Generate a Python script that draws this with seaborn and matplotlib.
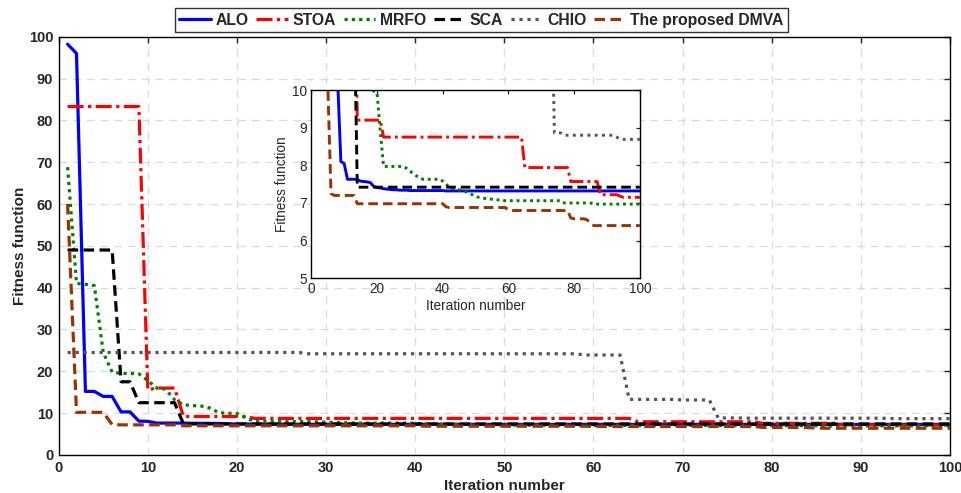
import matplotlib
matplotlib.use("Agg")
import matplotlib.pyplot as plt
import numpy as np
import pandas as pd
import seaborn as sns

iterations = list(range(1, 101))

alo = [
    98.2, 96.0, 15.2, 15.2, 14.0, 14.0, 10.3, 10.3, 8.10, 8.05,
    7.63, 7.63, 7.63, 7.62, 7.58, 7.57, 7.56, 7.54, 7.44, 7.41,
    7.40, 7.38, 7.37, 7.36, 7.35, 7.35, 7.34, 7.34, 7.34, 7.33,
    7.33, 7.33, 7.33, 7.33, 7.33, 7.33, 7.33, 7.33, 7.33, 7.33,
    7.32, 7.32, 7.32, 7.32, 7.32, 7.32, 7.32, 7.32, 7.32, 7.32,
    7.32, 7.32, 7.32, 7.32, 7.32, 7.32, 7.32, 7.32, 7.32, 7.32,
    7.32, 7.32, 7.32, 7.32, 7.32, 7.32, 7.32, 7.32, 7.32, 7.32,
    7.32, 7.32, 7.32, 7.32, 7.32, 7.32, 7.32, 7.32, 7.32, 7.32,
    7.32, 7.32, 7.32, 7.32, 7.32, 7.32, 7.32, 7.32, 7.32, 7.32,
    7.32, 7.32, 7.32, 7.32, 7.32, 7.32, 7.32, 7.32, 7.32, 7.32,
]

stoa = [
    83.3, 83.3, 83.3, 83.3, 83.3, 83.3, 83.3, 83.3, 83.3, 15.6,
    16.0, 16.0, 16.0, 9.20, 9.20, 9.20, 9.20, 9.20, 9.20, 9.20,
    9.20, 8.75, 8.75, 8.75, 8.75, 8.75, 8.75, 8.75, 8.75, 8.75,
    8.75, 8.75, 8.75, 8.75, 8.75, 8.75, 8.75, 8.75, 8.75, 8.75,
    8.75, 8.75, 8.75, 8.75, 8.75, 8.75, 8.75, 8.75, 8.75, 8.75,
    8.75, 8.75, 8.75, 8.75, 8.75, 8.75, 8.75, 8.75, 8.75, 8.75,
    8.75, 8.75, 8.75, 8.75, 7.94, 7.94, 7.94, 7.94, 7.94, 7.94,
    7.94, 7.94, 7.94, 7.94, 7.94, 7.94, 7.94, 7.94, 7.57, 7.57,
    7.57, 7.57, 7.57, 7.57, 7.57, 7.57, 7.57, 7.22, 7.22, 7.22,
    7.22, 7.22, 7.22, 7.18, 7.15, 7.15, 7.15, 7.15, 7.15, 7.15,
]

mrfo = [
    68.8, 41.0, 40.8, 40.5, 24.5, 19.8, 19.5, 19.5, 19.4, 17.8,
    16.0, 15.7, 13.2, 12.0, 11.8, 11.7, 11.2, 10.1, 9.97, 9.93,
    8.90, 7.97, 7.97, 7.97, 7.97, 7.97, 7.97, 7.97, 7.92, 7.85,
    7.78, 7.72, 7.66, 7.63, 7.63, 7.63, 7.63, 7.63, 7.63, 7.58,
    7.50, 7.42, 7.38, 7.36, 7.35, 7.33, 7.30, 7.25, 7.22, 7.17,
    7.15, 7.13, 7.12, 7.11, 7.10, 7.09, 7.08, 7.08, 7.06, 7.06,
    7.06, 7.06, 7.06, 7.06, 7.06, 7.06, 7.06, 7.06, 7.06, 7.06,
    7.06, 7.06, 7.06, 7.06, 7.06, 7.06, 7.00, 7.00, 7.00, 7.00,
    7.00, 7.00, 7.00, 7.00, 7.00, 6.97, 6.97, 6.97, 6.97, 6.97,
    6.97, 6.97, 6.97, 6.97, 6.97, 6.97, 6.97, 6.97, 6.97, 6.97,
]

sca = [
    49.0, 49.0, 49.0, 49.0, 49.0, 49.0, 17.5, 17.5, 12.5, 12.5,
    12.5, 12.5, 12.5, 7.42, 7.42, 7.42, 7.42, 7.42, 7.42, 7.42,
    7.42, 7.42, 7.42, 7.42, 7.42, 7.42, 7.42, 7.42, 7.42, 7.42,
    7.42, 7.42, 7.42, 7.42, 7.42, 7.42, 7.42, 7.42, 7.42, 7.42,
    7.42, 7.42, 7.42, 7.42, 7.42, 7.42, 7.42, 7.42, 7.42, 7.42,
    7.42, 7.42, 7.42, 7.42, 7.42, 7.42, 7.42, 7.42, 7.42, 7.42,
    7.42, 7.42, 7.42, 7.42, 7.42, 7.42, 7.42, 7.42, 7.42, 7.42,
    7.42, 7.42, 7.42, 7.42, 7.42, 7.42, 7.42, 7.42, 7.42, 7.42,
    7.42, 7.42, 7.42, 7.42, 7.42, 7.42, 7.42, 7.42, 7.42, 7.42,
    7.42, 7.42, 7.42, 7.42, 7.42, 7.42, 7.42, 7.42, 7.42, 7.42,
]

chio = [
    24.5, 24.5, 24.5, 24.5, 24.5, 24.5, 24.5, 24.5, 24.5, 24.5,
    24.5, 24.5, 24.5, 24.5, 24.5, 24.5, 24.5, 24.5, 24.5, 24.5,
    24.5, 24.5, 24.5, 24.5, 24.5, 24.5, 24.5, 24.2, 24.2, 24.2,
    24.2, 24.2, 24.2, 24.2, 24.2, 24.2, 24.2, 24.2, 24.2, 24.2,
    24.2, 24.2, 24.2, 24.2, 24.2, 24.2, 24.2, 24.2, 24.2, 24.2,
    24.2, 24.2, 24.2, 24.2, 24.2, 24.2, 24.2, 24.2, 23.9, 23.9,
    23.9, 23.9, 23.9, 13.3, 13.3, 13.3, 13.3, 13.3, 13.3, 13.15,
    13.15, 13.15, 13.15, 8.86, 8.86, 8.86, 8.80, 8.80, 8.80, 8.80,
    8.80, 8.80, 8.80, 8.80, 8.80, 8.80, 8.80, 8.80, 8.80, 8.80,
    8.80, 8.80, 8.75, 8.69, 8.69, 8.69, 8.69, 8.69, 8.69, 8.69,
]

dmva = [
    60.0, 10.2, 10.2, 10.2, 10.2, 7.25, 7.20, 7.20, 7.20, 7.20,
    7.20, 7.20, 7.20, 6.98, 6.98, 6.98, 6.98, 6.98, 6.98, 6.98,
    6.98, 6.98, 6.98, 6.98, 6.98, 6.98, 6.98, 6.98, 6.98, 6.98,
    6.98, 6.98, 6.98, 6.98, 6.98, 6.98, 6.98, 6.98, 6.98, 6.98,
    6.90, 6.88, 6.88, 6.88, 6.88, 6.88, 6.88, 6.88, 6.88, 6.88,
    6.88, 6.88, 6.88, 6.88, 6.88, 6.88, 6.88, 6.88, 6.88, 6.82,
    6.80, 6.80, 6.80, 6.80, 6.80, 6.80, 6.80, 6.80, 6.80, 6.80,
    6.80, 6.80, 6.80, 6.80, 6.80, 6.80, 6.80, 6.80, 6.60, 6.58,
    6.58, 6.58, 6.58, 6.55, 6.45, 6.40, 6.40, 6.40, 6.40, 6.40,
    6.40, 6.40, 6.40, 6.40, 6.40, 6.40, 6.40, 6.40, 6.40, 6.40,
]

names = ["ALO", "STOA", "MRFO", "SCA", "CHIO", "The proposed DMVA"]
series = [alo, stoa, mrfo, sca, chio, dmva]
colors = ["#0000ff", "#ff0000", "#008000", "#000000", "#555555", "#993300"]
styles = ["-", (0, (5.0, 1.4, 1.0, 1.4)), (0, (1.0, 1.3)), (0, (3.3, 1.7)),
          (0, (1.0, 1.5)), (0, (3.3, 1.7))]

frames = []
for n, vals in zip(names, series):
    frames.append(pd.DataFrame({"Iteration": iterations, "Fitness": vals, "Algorithm": n}))
df = pd.concat(frames, ignore_index=True)

sns.set_style("white")
plt.rcParams["font.family"] = ["Liberation Sans", "DejaVu Sans"]

fig = plt.figure(figsize=(9.62, 4.93), dpi=100)
ax = fig.add_axes([0.061, 0.0771, 0.9265, 0.8485])

for n, c, s in zip(names, colors, styles):
    sub = df[df["Algorithm"] == n]
    sns.lineplot(data=sub, x="Iteration", y="Fitness", ax=ax, color=c,
                 linestyle=s, linewidth=2.3, label=n, estimator=None,
                 legend=False)

ax.set_xlim(0, 100)
ax.set_ylim(0, 100)
ax.set_xticks(np.arange(0, 101, 10))
ax.set_yticks(np.arange(0, 101, 10))
ax.grid(True, color="#dadada", linestyle=(0, (6, 5)), linewidth=0.9)
ax.tick_params(direction="in", top=True, right=True, length=4, width=1,
               labelsize=10.5, pad=4)
for lab in ax.get_xticklabels() + ax.get_yticklabels():
    lab.set_fontweight("bold")
for sp in ax.spines.values():
    sp.set_color("black")
    sp.set_linewidth(1.0)
ax.set_xlabel("Iteration number", fontsize=11, fontweight="bold", labelpad=3)
ax.set_ylabel("Fitness function", fontsize=11, fontweight="bold", labelpad=1)

handles, labels = ax.get_legend_handles_labels()
leg = fig.legend(handles, labels, loc="center", bbox_to_anchor=(0.5005, 0.959),
                 ncol=6, frameon=True, fancybox=False, edgecolor="black",
                 handlelength=2.0, handletextpad=0.3, columnspacing=0.5,
                 borderpad=0.3, borderaxespad=0.2,
                 prop={"weight": "bold", "size": 11.3})
leg.get_frame().set_linewidth(1.0)

# inset
axi = fig.add_axes([0.3236, 0.4355, 0.3415, 0.3819])
axi.set_facecolor("white")
for n, c, s in zip(names, colors, styles):
    sub = df[df["Algorithm"] == n]
    sns.lineplot(data=sub, x="Iteration", y="Fitness", ax=axi, color=c,
                 linestyle=s, linewidth=2.1, estimator=None, legend=False)
axi.set_xlim(0, 100)
axi.set_ylim(5, 10)
axi.set_xticks(np.arange(0, 101, 20))
axi.set_yticks(np.arange(5, 11, 1))
axi.grid(False)
axi.tick_params(direction="in", top=True, right=True, length=3, width=0.9,
                labelsize=9.8, pad=3)
for sp in axi.spines.values():
    sp.set_color("black")
    sp.set_linewidth(1.0)
axi.set_xlabel("Iteration number", fontsize=9.8, labelpad=2)
axi.set_ylabel("Fitness function", fontsize=9.8, labelpad=2)

fig.savefig("out.png", dpi=100)
